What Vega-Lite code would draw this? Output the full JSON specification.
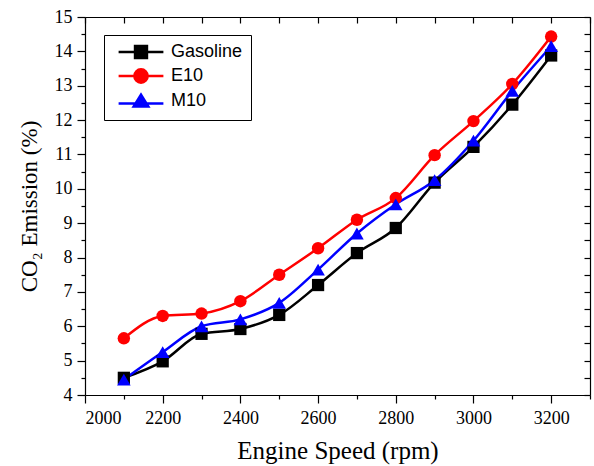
{
  "$schema": "https://vega.github.io/schema/vega-lite/v6.json",
  "autosize": "none",
  "width": 505,
  "height": 378,
  "padding": {"left": 85, "top": 17, "right": 4, "bottom": 71},
  "background": "white",
  "config": {"view": {"stroke": null}, "axis": {"domainColor": "black", "tickColor": "black", "labelColor": "black", "titleColor": "black", "grid": false, "labelFont": "Liberation Serif", "titleFont": "Liberation Serif", "labelFontSize": 18, "titleFontSize": 23, "titleFontWeight": "normal", "domainWidth": 1.2, "tickWidth": 1.2, "format": "d"}},
  "data": {"values": [
    {"fuel": "Gasoline", "rpm": 2100, "co2": 4.5},
    {"fuel": "Gasoline", "rpm": 2200, "co2": 4.98},
    {"fuel": "Gasoline", "rpm": 2300, "co2": 5.78},
    {"fuel": "Gasoline", "rpm": 2400, "co2": 5.92},
    {"fuel": "Gasoline", "rpm": 2500, "co2": 6.33},
    {"fuel": "Gasoline", "rpm": 2600, "co2": 7.2},
    {"fuel": "Gasoline", "rpm": 2700, "co2": 8.13},
    {"fuel": "Gasoline", "rpm": 2800, "co2": 8.86},
    {"fuel": "Gasoline", "rpm": 2900, "co2": 10.18},
    {"fuel": "Gasoline", "rpm": 3000, "co2": 11.22},
    {"fuel": "Gasoline", "rpm": 3100, "co2": 12.45},
    {"fuel": "Gasoline", "rpm": 3200, "co2": 13.88},
    {"fuel": "E10", "rpm": 2100, "co2": 5.65},
    {"fuel": "E10", "rpm": 2200, "co2": 6.3},
    {"fuel": "E10", "rpm": 2300, "co2": 6.37},
    {"fuel": "E10", "rpm": 2400, "co2": 6.73},
    {"fuel": "E10", "rpm": 2500, "co2": 7.5},
    {"fuel": "E10", "rpm": 2600, "co2": 8.27},
    {"fuel": "E10", "rpm": 2700, "co2": 9.1},
    {"fuel": "E10", "rpm": 2800, "co2": 9.73},
    {"fuel": "E10", "rpm": 2900, "co2": 10.98},
    {"fuel": "E10", "rpm": 3000, "co2": 11.97},
    {"fuel": "E10", "rpm": 3100, "co2": 13.05},
    {"fuel": "E10", "rpm": 3200, "co2": 14.43},
    {"fuel": "M10", "rpm": 2100, "co2": 4.45},
    {"fuel": "M10", "rpm": 2200, "co2": 5.25},
    {"fuel": "M10", "rpm": 2300, "co2": 6.0},
    {"fuel": "M10", "rpm": 2400, "co2": 6.2},
    {"fuel": "M10", "rpm": 2500, "co2": 6.68},
    {"fuel": "M10", "rpm": 2600, "co2": 7.65},
    {"fuel": "M10", "rpm": 2700, "co2": 8.7},
    {"fuel": "M10", "rpm": 2800, "co2": 9.55},
    {"fuel": "M10", "rpm": 2900, "co2": 10.25},
    {"fuel": "M10", "rpm": 3000, "co2": 11.4},
    {"fuel": "M10", "rpm": 3100, "co2": 12.85},
    {"fuel": "M10", "rpm": 3200, "co2": 14.15}
  ]},
  "resolve": {"axis": {"x": "independent", "y": "independent"}},
  "layer": [
    {
      "mark": {"type": "point", "opacity": 0},
      "encoding": {
        "x": {"field": "rpm", "type": "quantitative", "scale": {"domain": [2000, 3300], "nice": false, "zero": false},
              "axis": {"orient": "bottom", "values": [2100, 2300, 2500, 2700, 2900, 3100, 3300], "labels": false, "tickSize": 4, "domain": false, "title": null}},
        "y": {"field": "co2", "type": "quantitative", "scale": {"domain": [4, 15], "nice": false, "zero": false},
              "axis": {"orient": "left", "values": [4.5, 5.5, 6.5, 7.5, 8.5, 9.5, 10.5, 11.5, 12.5, 13.5, 14.5], "labels": false, "tickSize": 4, "domain": false, "title": null}}
      }
    },
    {
      "mark": {"type": "point", "opacity": 0},
      "encoding": {
        "x": {"field": "rpm", "type": "quantitative",
              "axis": {"orient": "top", "values": [2000, 2100, 2200, 2300, 2400, 2500, 2600, 2700, 2800, 2900, 3000, 3100, 3200, 3300], "labels": false, "tickSize": -6, "title": null}},
        "y": {"field": "co2", "type": "quantitative",
              "axis": {"orient": "right", "values": [4, 4.5, 5, 5.5, 6, 6.5, 7, 7.5, 8, 8.5, 9, 9.5, 10, 10.5, 11, 11.5, 12, 12.5, 13, 13.5, 14, 14.5, 15], "labels": false, "tickSize": -6, "title": null}}
      }
    },
    {
      "mark": {"type": "point", "filled": false, "opacity": 0},
      "encoding": {
        "x": {"field": "rpm", "type": "quantitative",
              "axis": {"orient": "bottom", "values": [2000, 2200, 2400, 2600, 2800, 3000, 3200], "tickSize": 8, "labelPadding": 6, "title": "Engine Speed (rpm)", "titleFontSize": 25, "titlePadding": 11}},
        "y": {"field": "co2", "type": "quantitative",
              "axis": {"orient": "left", "values": [4, 5, 6, 7, 8, 9, 10, 11, 12, 13, 14, 15], "tickSize": 8, "labelPadding": 5, "title": "CO₂ Emission (%)", "titlePadding": 13}},
        "color": {"field": "fuel", "type": "nominal", "sort": ["Gasoline", "E10", "M10"],
                  "scale": {"domain": ["Gasoline", "E10", "M10"], "range": ["#000000", "#ff0000", "#0000ff"]},
                  "legend": {"orient": "none", "legendX": 19, "legendY": 18, "title": null, "strokeColor": "black", "fillColor": "white", "padding": 8,
                             "labelFont": "Liberation Sans", "labelFontSize": 18, "labelColor": "black", "symbolSize": 196, "symbolStrokeWidth": 2.5,
                             "symbolOpacity": 1, "symbolOffset": 20, "labelOffset": 21, "rowPadding": 1}},
        "shape": {"field": "fuel", "type": "nominal",
                  "scale": {"domain": ["Gasoline", "E10", "M10"], "range": [
                    "M-3.2,0H3.2M-0.85,-0.85H0.85V0.85H-0.85ZM-0.5,-0.5H0.5V0.5H-0.5ZM-0.15,-0.15H0.15V0.15H-0.15Z",
                    "M-3.2,0H3.2M-0.95,0A0.95,0.95 0 1,0 0.95,0A0.95,0.95 0 1,0 -0.95,0ZM-0.6,0A0.6,0.6 0 1,0 0.6,0A0.6,0.6 0 1,0 -0.6,0ZM-0.25,0A0.25,0.25 0 1,0 0.25,0A0.25,0.25 0 1,0 -0.25,0Z",
                    "M-3.2,0.35H3.2M0,-0.9L1.05,0.8H-1.05ZM0,-0.38L0.58,0.55H-0.58ZM0,0.05L0.2,0.4H-0.2Z"]},
                  "legend": {"title": null}}
      }
    },
    {
      "mark": {"type": "line", "interpolate": "monotone", "strokeWidth": 2.5},
      "encoding": {
        "x": {"field": "rpm", "type": "quantitative", "axis": null},
        "y": {"field": "co2", "type": "quantitative", "axis": null},
        "color": {"field": "fuel", "type": "nominal"}
      }
    },
    {
      "transform": [{"filter": "datum.fuel === 'Gasoline'"}],
      "mark": {"type": "point", "filled": true, "opacity": 1, "shape": "square", "color": "#000000", "size": 150},
      "encoding": {
        "x": {"field": "rpm", "type": "quantitative", "axis": null},
        "y": {"field": "co2", "type": "quantitative", "axis": null}
      }
    },
    {
      "transform": [{"filter": "datum.fuel === 'E10'"}],
      "mark": {"type": "point", "filled": true, "opacity": 1, "shape": "circle", "color": "#ff0000", "size": 155},
      "encoding": {
        "x": {"field": "rpm", "type": "quantitative", "axis": null},
        "y": {"field": "co2", "type": "quantitative", "axis": null}
      }
    },
    {
      "transform": [{"filter": "datum.fuel === 'M10'"}],
      "mark": {"type": "point", "filled": true, "opacity": 1, "shape": "triangle-up", "color": "#0000ff", "size": 185},
      "encoding": {
        "x": {"field": "rpm", "type": "quantitative", "axis": null},
        "y": {"field": "co2", "type": "quantitative", "axis": null}
      }
    }
  ]
}
